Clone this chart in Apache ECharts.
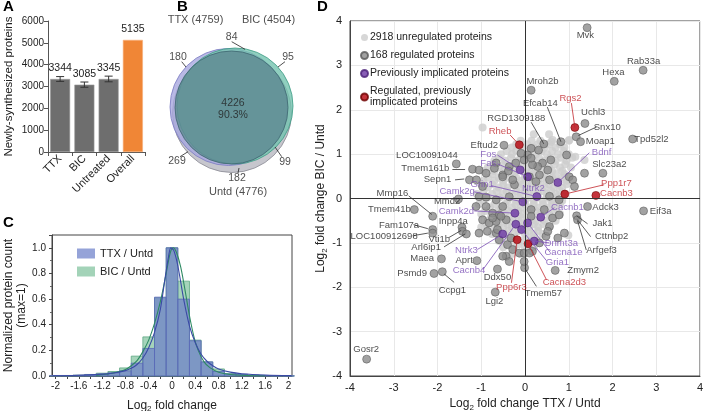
<!DOCTYPE html>
<html>
<head>
<meta charset="utf-8">
<script src="https://cdn.jsdelivr.net/npm/echarts@6/dist/echarts.min.js"></script>
<style>html,body{margin:0;padding:0;background:#fff}#chart{width:703px;height:411px}</style>
</head>
<body>
<div id="chart"></div>
<script>
// A - newly synthesized proteins
var barCategories = ['TTX', 'BIC', 'Untreated', 'Overall'];
var barValues = [3344, 3085, 3345, 5135];
var barErrors = [110, 120, 130, 0];

// B - overlap of the three sets
var vennSets = ['TTX (4759)', 'BIC (4504)', 'Untd (4776)'];
var vennCounts = ['180', '84', '95', '4226', '90.3%', '269', '99', '182'];

// C - histogram of log2 fold changes
var histBins = [-2, -1.8, -1.6, -1.4, -1.2, -1, -0.8, -0.6, -0.4, -0.2, 0, 0.2, 0.4, 0.6, 0.8, 1, 1.2, 1.4, 1.6, 1.8, 2];
var histTTX = [0.004, 0.004, 0.006, 0.01, 0.015, 0.025, 0.04, 0.1, 0.215, 0.615, 1.0, 0.6, 0.275, 0.11, 0.035, 0.015, 0.012, 0.006, 0.004, 0.002, 0.001];
var histBIC = [0.003, 0.004, 0.006, 0.012, 0.022, 0.035, 0.063, 0.155, 0.305, 0.61, 1.0, 0.74, 0.28, 0.11, 0.055, 0.02, 0.012, 0.006, 0.004, 0.002, 0.001];
var fitTTX = [[-2.05, 0.002], [-1.6, 0.006], [-1.2, 0.015], [-1.0, 0.024], [-0.8, 0.042], [-0.7, 0.06], [-0.6, 0.09], [-0.5, 0.14], [-0.4, 0.22], [-0.3, 0.34], [-0.2, 0.52], [-0.12, 0.76], [-0.06, 0.93], [-0.02, 1.0], [0.03, 0.98], [0.1, 0.86], [0.2, 0.6], [0.3, 0.39], [0.4, 0.26], [0.5, 0.17], [0.6, 0.115], [0.7, 0.08], [0.8, 0.055], [1.0, 0.03], [1.2, 0.018], [1.6, 0.008], [2.05, 0.003]];
var fitBIC = [[-1.3, 0.005], [-1.1, 0.015], [-0.9, 0.035], [-0.8, 0.05], [-0.7, 0.08], [-0.6, 0.12], [-0.5, 0.19], [-0.4, 0.28], [-0.3, 0.41], [-0.2, 0.58], [-0.1, 0.8], [-0.03, 0.96], [0.02, 1.0], [0.08, 0.96], [0.15, 0.85], [0.22, 0.68], [0.3, 0.47], [0.38, 0.3], [0.45, 0.2], [0.55, 0.11], [0.65, 0.065], [0.8, 0.03], [1.0, 0.012], [1.3, 0.004], [1.6, 0.001]];

// D - TTX vs BIC scatter
var unregulated = [
  [0.2, 1.45], [0.55, 1.45], [-0.97, 1.6], [1.01, 1.32], [0.63, 1.32],
  [-0.1, 1.3], [0.15, 1.3], [0.35, 1.3], [0.6, 1.28], [1.0, 1.3],
  [-0.2, 1.22], [0.05, 1.22], [0.3, 1.22], [0.55, 1.22], [0.8, 1.22],
  [-0.3, 1.15], [-0.05, 1.15], [0.2, 1.15], [0.45, 1.15], [0.7, 1.15], [0.9, 1.15],
  [-0.42, 1.07], [-0.2, 1.07], [0.1, 1.07], [0.38, 1.07], [0.62, 1.07], [0.88, 1.07],
  [-0.55, 1.0], [-0.3, 1.0], [-0.1, 1.0], [0.25, 1.0], [0.5, 1.0], [0.75, 1.0], [1.0, 1.0], [1.15, 0.94],
  [-0.6, 0.92], [-0.32, 0.92], [-0.1, 0.92], [0.1, 0.92], [0.32, 0.92], [0.58, 0.92], [0.82, 0.92], [1.08, 0.92],
  [-0.7, 0.85], [-0.45, 0.85], [-0.2, 0.85], [0.0, 0.85], [0.2, 0.85], [0.45, 0.85], [0.7, 0.85], [0.95, 0.85], [1.36, 0.87],
  [-0.72, 0.77], [-0.48, 0.77], [-0.25, 0.77], [-0.05, 0.77], [0.15, 0.77], [0.42, 0.77], [0.68, 0.77], [0.92, 0.77],
  [-0.85, 0.7], [-0.6, 0.7], [-0.35, 0.7], [-0.15, 0.7], [0.05, 0.7], [0.3, 0.7], [0.55, 0.7], [0.8, 0.7], [1.05, 0.7],
  [-0.95, 0.62], [-0.7, 0.62], [-0.48, 0.62], [-0.25, 0.62], [-0.05, 0.62], [0.15, 0.62], [0.38, 0.62], [0.62, 0.62], [0.85, 0.62],
  [-0.75, 0.55], [-0.45, 0.55], [-0.25, 0.55], [0.0, 0.55], [0.2, 0.55], [0.45, 0.55], [0.7, 0.55], [0.9, 0.55],
  [-0.85, 0.47], [-0.6, 0.47], [-0.38, 0.47], [-0.2, 0.47], [0.0, 0.47], [0.22, 0.47], [0.4, 0.47], [0.62, 0.47], [0.85, 0.47],
  [-0.95, 0.4], [-0.7, 0.4], [-0.5, 0.4], [-0.3, 0.4], [-0.1, 0.4], [0.1, 0.4], [0.3, 0.4], [0.5, 0.4], [0.75, 0.4], [0.95, 0.4],
  [-1.0, 0.32], [-0.75, 0.32], [-0.5, 0.32], [-0.28, 0.32], [-0.05, 0.32], [0.15, 0.32], [0.35, 0.32], [0.55, 0.32], [0.75, 0.32], [0.95, 0.32],
  [-0.85, 0.25], [-0.6, 0.25], [-0.4, 0.25], [-0.15, 0.25], [0.05, 0.25], [0.25, 0.25], [0.45, 0.25], [0.65, 0.25], [0.85, 0.25],
  [-0.95, 0.17], [-0.65, 0.17], [-0.42, 0.17], [-0.2, 0.17], [0.0, 0.17], [0.2, 0.17], [0.4, 0.17], [0.6, 0.17], [0.8, 0.17],
  [-1.1, 0.1], [-0.75, 0.1], [-0.5, 0.1], [-0.3, 0.1], [-0.1, 0.1], [0.1, 0.1], [0.3, 0.1], [0.5, 0.1], [0.7, 0.1], [0.9, 0.1],
  [-0.85, 0.02], [-0.58, 0.02], [-0.35, 0.02], [-0.15, 0.02], [0.08, 0.02], [0.28, 0.02], [0.5, 0.02], [0.72, 0.02],
  [-0.95, -0.05], [-0.65, -0.05], [-0.4, -0.05], [-0.2, -0.05], [0.0, -0.05], [0.2, -0.05], [0.4, -0.05], [0.6, -0.05], [0.85, -0.05],
  [-1.05, -0.13], [-0.7, -0.13], [-0.45, -0.13], [-0.22, -0.13], [0.0, -0.13], [0.2, -0.13], [0.42, -0.13], [0.62, -0.13], [0.8, -0.13],
  [-0.8, -0.2], [-0.55, -0.2], [-0.3, -0.2], [-0.1, -0.2], [0.1, -0.2], [0.3, -0.2], [0.5, -0.2], [0.7, -0.2],
  [-0.9, -0.28], [-0.62, -0.28], [-0.38, -0.28], [-0.15, -0.28], [0.05, -0.28], [0.25, -0.28], [0.45, -0.28], [0.65, -0.28],
  [-1.0, -0.35], [-0.7, -0.35], [-0.45, -0.35], [-0.25, -0.35], [-0.05, -0.35], [0.15, -0.35], [0.35, -0.35], [0.55, -0.35], [0.8, -0.35],
  [-0.78, -0.43], [-0.52, -0.43], [-0.28, -0.43], [-0.08, -0.43], [0.15, -0.43], [0.35, -0.43], [0.6, -0.43],
  [-0.85, -0.5], [-0.6, -0.5], [-0.35, -0.5], [-0.15, -0.5], [0.05, -0.5], [0.25, -0.5], [0.45, -0.5], [0.7, -0.5],
  [-0.88, -0.58], [-0.6, -0.58], [-0.4, -0.58], [-0.2, -0.58], [0.0, -0.58], [0.2, -0.58], [0.42, -0.58],
  [-1.0, -0.65], [-0.7, -0.65], [-0.5, -0.65], [-0.3, -0.65], [-0.1, -0.65], [0.1, -0.65], [0.3, -0.65], [0.55, -0.65],
  [-0.62, -0.73], [-0.38, -0.73], [-0.15, -0.73], [0.1, -0.73], [0.3, -0.73],
  [-0.75, -0.8], [-0.45, -0.8], [-0.25, -0.8], [0.0, -0.8], [0.2, -0.8], [0.4, -0.8], [0.99, -0.83],
  [-0.5, -0.88], [-0.25, -0.88], [0.05, -0.88], [0.22, -0.88],
  [-0.6, -0.95], [-0.35, -0.95], [-0.1, -0.95], [0.1, -0.95], [0.3, -0.95],
  [-0.42, -1.03], [-0.15, -1.03], [0.1, -1.03],
  [-0.5, -1.1], [-0.25, -1.1], [0.0, -1.1], [0.2, -1.1], [-0.3, -1.25], [-0.1, -1.25]
];
var regulated = [
  [1.42, 3.85], [2.70, 2.89], [2.04, 2.64], [0.14, 2.44], [0.82, 1.28], [1.37, 1.69], [1.17, 1.39], [1.27, 1.28],
  [2.46, 1.34], [0.43, 1.23], [-0.48, 1.20], [-1.57, 0.78], [-1.20, 0.66], [-1.27, 0.42], [-2.11, -0.40], [-1.52, -0.01],
  [-2.53, -0.25], [-1.44, -0.65], [-2.11, -0.70], [-2.11, -0.78], [-1.43, -0.74], [-1.34, -0.80], [-1.91, -1.36],
  [-2.08, -1.69], [-1.89, -1.65], [-1.10, -1.40], [-0.63, -1.59], [-0.68, -2.11], [-0.01, -1.56], [0.69, -1.62],
  [1.43, -0.18], [2.71, -0.28], [1.18, -0.39], [1.20, -0.48], [1.78, 0.57], [-3.62, -3.62],
  [0.14, 1.13], [0.95, 0.98], [0.40, 0.80], [0.59, 0.87], [0.29, 0.72], [0.52, 0.64], [0.33, 0.53], [0.56, 0.42],
  [1.01, 0.49], [1.09, 0.42], [1.13, 0.27], [1.36, 0.57], [0.06, 0.98], [-0.02, 0.87], [0.17, 0.76], [0.10, 0.49],
  [0.78, -0.03], [0.56, 0.05], [-0.36, 0.72], [-0.51, 0.53], [-0.24, 0.31], [-0.66, 0.80],
  [-1.05, 0.64], [-0.89, 0.57], [-0.70, 0.68], [-0.38, 0.62], [-1.11, 0.42], [-0.97, 0.27], [-1.05, 0.04],
  [-0.89, 0.03], [-0.66, -0.03], [-0.51, -0.18], [-0.36, 0.04], [-1.12, -0.18], [-0.89, -0.18], [-0.74, -0.33],
  [-0.59, -0.37], [-0.97, -0.48], [-0.82, -0.55], [-0.66, -0.52], [-0.43, -0.48], [-1.05, -0.78], [-0.86, -0.74],
  [-0.66, -0.78], [0.14, -0.25], [0.25, 0.38], [0.14, 0.91], [0.31, 1.09], [-0.21, 0.80], [-0.09, 1.02],
  [-0.28, 0.42], [-0.51, 0.49], [-0.74, -0.44], [-0.63, -0.70], [-0.59, -0.93], [-0.40, -1.04], [-0.28, -1.15],
  [-0.43, -1.30], [-0.13, -1.23], [-0.02, -1.23], [0.17, -1.19], [0.33, -1.0], [0.48, -0.85], [0.56, -0.63],
  [0.63, -0.44], [0.44, -0.25], [0.14, -0.40], [-0.55, -0.40], [-0.32, -0.89], [0.78, -0.37], [0.90, -0.78],
  [0.75, -0.89], [0.52, -0.74], [0.10, -1.23], [-0.02, -1.42], [-0.36, -1.42], [-0.51, -1.30]
];
var implicated = [
  [-0.11, 0.645], [0.06, 0.49], [0.75, 0.36], [0.27, 0.045], [-0.05, -0.075], [-0.23, -0.33],
  [0.36, -0.42], [0.06, -0.55], [-0.21, -0.58], [-0.08, -0.70], [-0.51, -0.80], [0.21, -0.96]
];
var regImplicated = [[-0.13, 1.21], [1.14, 1.60], [0.91, 0.10], [1.62, 0.07], [0.07, -1.02], [-0.18, -0.93]];

// gene name, colour class, label centre in data units
var geneLabels = [
  ['Mvk', 'k', 1.38, 3.68], ['Rab33a', 'k', 2.71, 3.09], ['Hexa', 'k', 2.02, 2.84], ['Mroh2b', 'k', 0.40, 2.64],
  ['Efcab14', 'k', 0.35, 2.15], ['Uchl3', 'k', 1.56, 1.93], ['Snx10', 'k', 1.88, 1.61], ['Moap1', 'k', 1.72, 1.29],
  ['Tpd52l2', 'k', 2.89, 1.34], ['RGD1309188', 'k', -0.20, 1.81], ['Eftud2', 'k', -0.93, 1.20],
  ['LOC10091044', 'k', -2.24, 0.98], ['Tmem161b', 'k', -2.28, 0.67], ['Sepn1', 'k', -2.0, 0.42],
  ['Mmp16', 'k', -3.03, 0.11], ['Mmd2', 'k', -1.78, -0.07], ['Tmem41b', 'k', -3.10, -0.25], ['Inpp4a', 'k', -1.64, -0.52],
  ['Fam107a', 'k', -2.88, -0.61], ['LOC100912698', 'k', -3.22, -0.86], ['Vti1b', 'k', -1.96, -0.93],
  ['Arl6ip1', 'k', -2.26, -1.11], ['Maea', 'k', -2.35, -1.36], ['Psmd9', 'k', -2.58, -1.69], ['Ccpg1', 'k', -1.66, -2.07],
  ['Aprt', 'k', -1.39, -1.40], ['Ddx50', 'k', -0.63, -1.78], ['Lgi2', 'k', -0.70, -2.32], ['Tmem57', 'k', 0.42, -2.14],
  ['Zmym2', 'k', 1.33, -1.62], ['Adck3', 'k', 1.84, -0.19], ['Eif3a', 'k', 3.10, -0.28], ['Jak1', 'k', 1.77, -0.57],
  ['Cttnbp2', 'k', 1.98, -0.86], ['Arfgef3', 'k', 1.75, -1.16], ['Slc23a2', 'k', 1.93, 0.76], ['Gosr2', 'k', -3.63, -3.40],
  ['Fos', 'p', -0.84, 1.00], ['Fas', 'p', -0.84, 0.80], ['Grin1', 'p', -0.98, 0.31], ['Camk2g', 'p', -1.55, 0.17],
  ['Ntrk2', 'p', 0.19, 0.22], ['Camk2d', 'p', -1.57, -0.28], ['Bdnf', 'p', 1.75, 1.03], ['Cacnb1', 'p', 0.97, -0.21],
  ['Ntrk3', 'p', -1.34, -1.18], ['Cacnb4', 'p', -1.28, -1.63], ['Dnmt3a', 'p', 0.83, -1.02], ['Cacna1e', 'p', 0.88, -1.22],
  ['Gria1', 'p', 0.74, -1.43],
  ['Rgs2', 'r', 1.04, 2.26], ['Rheb', 'r', -0.57, 1.52], ['Ppp1r7', 'r', 2.09, 0.35], ['Cacnb3', 'r', 2.09, 0.11],
  ['Cacna2d3', 'r', 0.90, -1.89], ['Ppp6r3', 'r', -0.31, -2.0]
];
// leader lines: colour class, from (label side) to (point side)
var leaderLines = [
  ['k', 0.51, 2.06, 0.82, 1.28], ['k', 1.63, 1.61, 1.22, 1.42], ['k', 0.14, 1.72, 0.43, 1.23],
  ['k', -1.66, 0.67, -1.37, 0.67], ['k', -1.60, 0.42, -1.39, 0.44], ['k', -2.66, 0.06, -2.13, -0.36],
  ['k', -2.55, -0.59, -2.22, -0.68], ['k', -2.57, -0.84, -2.22, -0.78], ['k', -1.74, -0.88, -1.46, -0.72],
  ['k', -1.85, -1.09, -1.37, -0.80], ['k', -1.62, -1.89, -1.85, -1.70], ['k', 0.26, -1.98, 0.0, -1.58],
  ['k', 1.43, -0.57, 1.18, -0.39], ['k', 1.50, -0.86, 1.20, -0.48], ['k', 1.40, -1.16, 1.20, -0.50],
  ['p', -0.63, 0.98, -0.11, 0.645], ['p', -0.63, 0.78, 0.06, 0.49], ['p', -0.77, 0.29, 0.27, 0.045],
  ['p', -1.16, 0.15, -0.05, -0.075], ['p', -1.16, -0.28, -0.23, -0.33], ['p', 1.47, 1.03, 0.75, 0.36],
  ['p', 0.67, -0.21, 0.36, -0.42], ['p', -1.09, -1.15, -0.51, -0.80], ['p', -0.96, -1.60, -0.21, -0.58],
  ['p', 0.56, -1.0, 0.21, -0.96], ['p', 0.58, -1.22, 0.06, -0.55], ['p', 0.49, -1.40, -0.08, -0.70],
  ['r', 1.06, 2.15, 1.14, 1.60], ['r', -0.34, 1.43, -0.13, 1.21], ['r', 1.81, 0.31, 0.91, 0.10],
  ['r', 0.49, -1.83, 0.07, -1.02], ['r', -0.31, -1.90, -0.18, -0.93]
];

var FONT = '"Liberation Sans", Arial, sans-serif';
var labelColor = { k: '#1a1a1a', p: '#7b4fb5', r: '#c1272d' };
var lineColor = { k: '#333333', p: '#7b4fb5', r: '#c1272d' };

var chart = echarts.init(document.getElementById('chart'), null, { renderer: 'canvas' });

// Venn layout in the hidden grid of panel B (units = px inside that grid)
var vennCircles = [
  { value: [72, 103], symbolSize: 119, itemStyle: { color: '#b8b8c0', borderColor: '#8a8a94', borderWidth: 1 } },
  { value: [68.5, 97], symbolSize: 117, itemStyle: { color: '#a7a7df', borderColor: '#7a7ac2', borderWidth: 1 } },
  { value: [75, 96], symbolSize: 116, itemStyle: { color: '#74c3af', borderColor: '#3f9c86', borderWidth: 1 } },
  { value: [71.5, 97.5], symbolSize: 113, itemStyle: { color: '#5f8992', borderColor: '#3d6670', borderWidth: 1 } }
];
var vennTextPos = [[35.5, 10], [108.5, 10], [78, 182]];
var vennCountPos = [[18, 47], [71.7, 27.3], [128, 47], [73, 93], [73, 105], [17, 151], [125, 152], [77, 168]];
var vennLines = [
  [[71.7, 31.7], [85, 39.3]], [[21.7, 51.7], [26, 57]], [[125, 51.7], [118, 57]],
  [[20, 146.7], [28, 141.7]], [[121.7, 146.7], [115, 137]], [[78, 163], [79, 158]]
];

var textData = vennSets.map(function (s, i) { return { value: vennTextPos[i], name: s, label: { fontSize: 11 } }; })
  .concat(vennCounts.map(function (s, i) { return { value: vennCountPos[i], name: s }; }));

var binHalf = 0.1;
function histItem(color, stroke) {
  return function (params, api) {
    var x = api.value(0), y = api.value(1);
    var p0 = api.coord([x - binHalf, y]);
    var p1 = api.coord([x + binHalf, 0]);
    return {
      type: 'rect',
      shape: { x: p0[0], y: p0[1], width: p1[0] - p0[0], height: p1[1] - p0[1] },
      style: { fill: color, stroke: stroke, lineWidth: 0.8 }
    };
  };
}

var option = {
  animation: false,
  textStyle: { fontFamily: FONT },
  title: [
    { text: 'A', left: 3, top: -1 },
    { text: 'B', left: 177, top: -1 },
    { text: 'C', left: 3, top: 215 },
    { text: 'D', left: 317, top: -1 }
  ].map(function (t) {
    t.padding = 0;
    t.textStyle = { fontSize: 15, fontWeight: 'bold', color: '#000', fontFamily: FONT };
    return t;
  }),
  legend: [
    {
      data: ['TTX / Untd', 'BIC / Untd'],
      orient: 'vertical', left: 72, top: 243, itemGap: 7,
      itemWidth: 18, itemHeight: 10, icon: 'rect',
      textStyle: { fontSize: 11, color: '#222', fontFamily: FONT }
    },
    {
      data: ['2918 unregulated proteins', '168 regulated proteins', 'Previously implicated proteins', 'Regulated, previously\nimplicated proteins'],
      orient: 'vertical', left: 355, top: 27, itemGap: 7,
      itemWidth: 7, itemHeight: 7, icon: 'circle',
      textStyle: { fontSize: 10.5, color: '#222', fontFamily: FONT, padding: [0, 0, 0, -3] }
    }
  ],
  grid: [
    { left: 48, top: 21, width: 97, height: 131, outerBoundsMode: 'none' },
    { left: 160, top: 10, width: 140, height: 190, outerBoundsMode: 'none' },
    { left: 52, top: 235, width: 240, height: 141, show: true, borderColor: '#444', borderWidth: 1, outerBoundsMode: 'none' },
    { left: 350, top: 21, width: 350, height: 355, show: true, borderColor: '#444', borderWidth: 1, outerBoundsMode: 'none' }
  ],
  xAxis: [
    {
      gridIndex: 0, type: 'category', data: barCategories,
      axisLine: { lineStyle: { color: '#555' } },
      axisTick: { show: true, length: 4, lineStyle: { color: '#555' } },
      axisLabel: { rotate: 45, fontSize: 11, color: '#222', margin: 5, interval: 0 }
    },
    { gridIndex: 1, type: 'value', min: 0, max: 140, show: false },
    {
      gridIndex: 2, type: 'value', min: -2.06, max: 2.06,
      axisLine: { onZero: false, lineStyle: { color: '#444' } },
      axisTick: { length: 3, lineStyle: { color: '#444' }, customValues: histBins },
      axisLabel: {
        fontSize: 10, color: '#222', margin: 5,
        customValues: [-2, -1.6, -1.2, -0.8, -0.4, 0, 0.4, 0.8, 1.2, 1.6, 2],
        formatter: function (v) { return String(Math.round(v * 10) / 10); }
      },
      splitLine: { show: false },
      name: 'Log{s|2} fold change', nameLocation: 'middle', nameGap: 22,
      nameTextStyle: { fontSize: 12, color: '#222', rich: { s: { fontSize: 8, padding: [7, 0, 0, 0] } } }
    },
    {
      gridIndex: 3, type: 'value', min: -4, max: 4, interval: 1,
      axisLine: { onZero: false, lineStyle: { color: '#444' } },
      axisTick: { show: false },
      axisLabel: { fontSize: 11, color: '#222', margin: 6 },
      splitLine: { lineStyle: { color: '#e8e8e8' } },
      name: 'Log{s|2} fold change TTX / Untd', nameLocation: 'middle', nameGap: 20,
      nameTextStyle: { fontSize: 12, color: '#222', rich: { s: { fontSize: 8, padding: [7, 0, 0, 0] } } }
    }
  ],
  yAxis: [
    {
      gridIndex: 0, type: 'value', min: 0, max: 6000, interval: 1000,
      axisLine: { show: true, lineStyle: { color: '#555' } },
      axisTick: { show: true, length: 4, lineStyle: { color: '#555' } },
      axisLabel: { fontSize: 10, color: '#222', margin: 4, formatter: function (v) { return String(v); } },
      splitLine: { show: false },
      name: 'Newly-synthesized proteins', nameLocation: 'middle', nameGap: 33,
      nameTextStyle: { fontSize: 11.5, color: '#222' }
    },
    { gridIndex: 1, type: 'value', min: 0, max: 190, inverse: true, show: false },
    {
      gridIndex: 2, type: 'value', min: 0, max: 1.1, interval: 0.2,
      axisLine: { show: true, onZero: false, lineStyle: { color: '#444' } },
      axisTick: { show: true, length: 3, lineStyle: { color: '#444' } },
      minorTick: { show: true, splitNumber: 2, length: 2, lineStyle: { color: '#666' } },
      axisLabel: { fontSize: 10, color: '#222', margin: 6, showMaxLabel: false, formatter: function (v) { return v.toFixed(1); } },
      splitLine: { show: false },
      name: 'Normalized protein count\n(max=1)', nameLocation: 'middle', nameGap: 17,
      nameTextStyle: { fontSize: 12, color: '#222', lineHeight: 13 }
    },
    {
      gridIndex: 3, type: 'value', min: -4, max: 4, interval: 1,
      axisLine: { show: true, onZero: false, lineStyle: { color: '#444' } },
      axisTick: { show: false },
      axisLabel: { fontSize: 11, color: '#222', margin: 8 },
      splitLine: { lineStyle: { color: '#e8e8e8' } },
      name: 'Log{s|2} fold change BIC / Untd', nameLocation: 'middle', nameGap: 10,
      nameTextStyle: { fontSize: 12, color: '#222', rich: { s: { fontSize: 8, padding: [7, 0, 0, 0] } } }
    }
  ],
  series: [
    // ---- A ----
    {
      type: 'bar', xAxisIndex: 0, yAxisIndex: 0, barWidth: 20,
      data: barValues.map(function (v, i) {
        return { value: v, itemStyle: { color: i === 3 ? '#f08636' : '#6e6e6e', borderColor: i === 3 ? '#f6b07a' : '#9a9a9a', borderWidth: 0.6 } };
      }),
      label: { show: true, position: 'top', distance: 5, fontSize: 10.5, color: '#222' }
    },
    {
      type: 'custom', xAxisIndex: 0, yAxisIndex: 0, z: 3,
      data: barValues.map(function (v, i) { return [i, v, barErrors[i]]; }),
      renderItem: function (params, api) {
        var e = api.value(2);
        if (!e) return;
        var i = api.value(0), v = api.value(1);
        var hi = api.coord([i, v + e]), lo = api.coord([i, v - e]);
        var w = 4, st = { stroke: '#333', lineWidth: 1 };
        return {
          type: 'group', children: [
            { type: 'line', shape: { x1: hi[0], y1: hi[1], x2: lo[0], y2: lo[1] }, style: st },
            { type: 'line', shape: { x1: hi[0] - w, y1: hi[1], x2: hi[0] + w, y2: hi[1] }, style: st },
            { type: 'line', shape: { x1: lo[0] - w, y1: lo[1], x2: lo[0] + w, y2: lo[1] }, style: st }
          ]
        };
      }
    },
    // ---- B ----
    {
      type: 'scatter', xAxisIndex: 1, yAxisIndex: 1, symbol: 'circle', silent: true,
      data: vennCircles, z: 2
    },
    {
      type: 'lines', coordinateSystem: 'cartesian2d', xAxisIndex: 1, yAxisIndex: 1, silent: true, z: 3,
      lineStyle: { color: '#222', width: 0.8, opacity: 1 },
      data: vennLines.map(function (l) { return { coords: l }; })
    },
    {
      type: 'scatter', xAxisIndex: 1, yAxisIndex: 1, symbolSize: 0, silent: true, z: 4,
      data: textData,
      label: { show: true, position: 'inside', formatter: '{b}', fontSize: 10.5, color: '#222' }
    },
    // ---- C ----
    {
      name: 'BIC / Untd', type: 'custom', xAxisIndex: 2, yAxisIndex: 2, z: 2,
      itemStyle: { color: '#a3d3b8' },
      data: histBins.map(function (b, i) { return [b, histBIC[i]]; }),
      renderItem: histItem('rgba(130,196,160,0.72)', '#5fa884')
    },
    {
      name: 'TTX / Untd', type: 'custom', xAxisIndex: 2, yAxisIndex: 2, z: 3,
      itemStyle: { color: '#95a3d8' },
      data: histBins.map(function (b, i) { return [b, histTTX[i]]; }),
      renderItem: histItem('rgba(110,128,200,0.72)', '#5a6ab8')
    },
    {
      name: 'BIC fit', type: 'line', xAxisIndex: 2, yAxisIndex: 2, z: 4, smooth: 0.3,
      showSymbol: false, data: fitBIC, lineStyle: { color: '#2e8a63', width: 1.1 }
    },
    {
      name: 'TTX fit', type: 'line', xAxisIndex: 2, yAxisIndex: 2, z: 5, smooth: 0.3,
      showSymbol: false, data: fitTTX, lineStyle: { color: '#3a4aa5', width: 1.1 }
    },
    // ---- D ----
    {
      name: '2918 unregulated proteins', type: 'scatter', xAxisIndex: 3, yAxisIndex: 3, z: 2,
      symbolSize: 8, data: unregulated, itemStyle: { color: '#cdcdcd' },
      markLine: {
        silent: true, symbol: ['none', 'none'], label: { show: false },
        lineStyle: { color: '#333', type: 'solid', width: 1 },
        data: [{ xAxis: 0 }, { yAxis: 0 }]
      }
    },
    {
      name: '168 regulated proteins', type: 'scatter', xAxisIndex: 3, yAxisIndex: 3, z: 3,
      symbolSize: 8, data: regulated, itemStyle: { color: '#8b8b8b', borderColor: '#5a5a5a', borderWidth: 0.7 }
    },
    {
      name: 'Previously implicated proteins', type: 'scatter', xAxisIndex: 3, yAxisIndex: 3, z: 4,
      symbolSize: 8, data: implicated, itemStyle: { color: '#6a36a3', borderColor: '#4a2078', borderWidth: 0.7 }
    },
    {
      name: 'Regulated, previously\nimplicated proteins', type: 'scatter', xAxisIndex: 3, yAxisIndex: 3, z: 4,
      symbolSize: 8, data: regImplicated, itemStyle: { color: '#b5000a', borderColor: '#6e0000', borderWidth: 0.7 }
    },
    {
      type: 'lines', coordinateSystem: 'cartesian2d', xAxisIndex: 3, yAxisIndex: 3, silent: true, z: 5,
      data: leaderLines.map(function (l) {
        return { coords: [[l[1], l[2]], [l[3], l[4]]], lineStyle: { color: lineColor[l[0]] } };
      }),
      lineStyle: { width: 0.8, opacity: 1 }
    },
    {
      type: 'scatter', xAxisIndex: 3, yAxisIndex: 3, symbolSize: 0, silent: true, z: 6,
      data: geneLabels.map(function (g) {
        return { name: g[0], value: [g[2], g[3]], label: { color: labelColor[g[1]] } };
      }),
      label: { show: true, position: 'inside', formatter: '{b}', fontSize: 9.5 }
    }
  ]
};
chart.setOption(option);
</script>
</body>
</html>
